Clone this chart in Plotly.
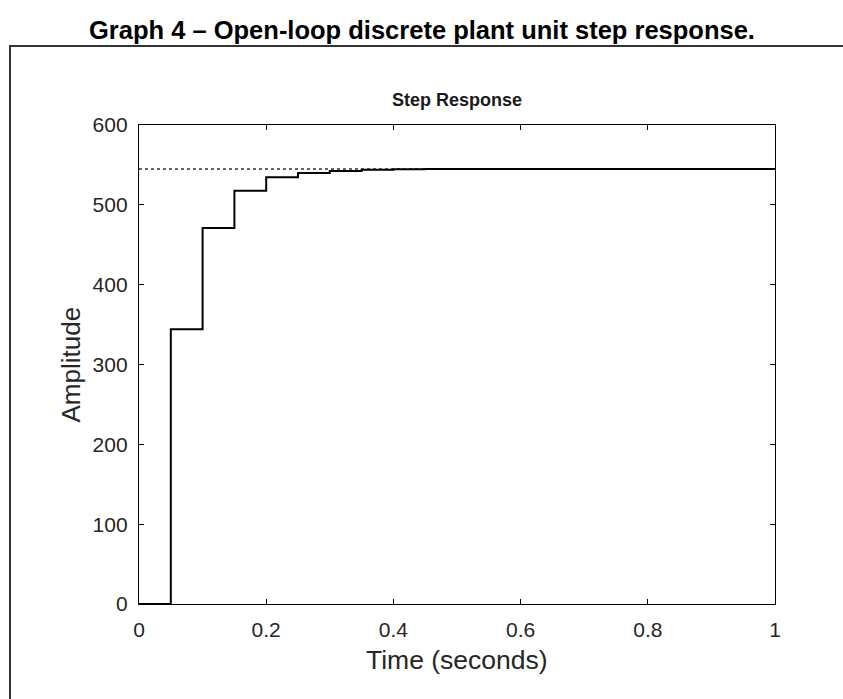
import plotly.graph_objects as go

# Data
time_s = [0.0, 0.05, 0.10, 0.15, 0.20, 0.25, 0.30, 0.35, 0.40, 0.45, 0.50,
          0.55, 0.60, 0.65, 0.70, 0.75, 0.80, 0.85, 0.90, 0.95, 1.0]
amplitude = [0, 344, 471, 517.5, 534.5, 540, 542.5, 544, 544.5, 545, 545,
             545, 545, 545, 545, 545, 545, 545, 545, 545, 545]
steady_x = [0, 1]
steady_y = [545, 545]
x_ticks = [0, 0.2, 0.4, 0.6, 0.8, 1]
x_tick_text = ["0", "0.2", "0.4", "0.6", "0.8", "1"]
y_ticks = [0, 100, 200, 300, 400, 500, 600]

W, H = 843, 699
L, R, T, B = 139, 68, 125, 94.5
pw, ph = W - L - R, H - T - B

def px2paper_x(px):
    return (px - L) / pw

def px2paper_y(py):
    return (H - B - py) / ph

FONT = "Liberation Sans, Arial, Helvetica, sans-serif"

fig = go.Figure()
fig.add_trace(go.Scatter(x=steady_x, y=steady_y, mode="lines",
                         line=dict(color="#333333", width=1.5, dash="dot"),
                         hoverinfo="skip", showlegend=False))
fig.add_trace(go.Scatter(x=time_s, y=amplitude, mode="lines", line_shape="hv",
                         line=dict(color="black", width=2), showlegend=False))

axis_common = dict(showline=True, linecolor="black", linewidth=1.3, mirror="ticks",
                   ticks="inside", ticklen=5, tickwidth=1.2, tickcolor="black",
                   showgrid=False, zeroline=False,
                   tickfont=dict(family=FONT, size=21, color="#262626"))

fig.update_xaxes(range=[0, 1], tickvals=x_ticks, ticktext=x_tick_text,
                 ticklabelstandoff=7, **axis_common)
fig.update_yaxes(range=[0, 600], tickvals=y_ticks, ticklabelstandoff=6,
                 **axis_common)

# outer frame
fig.add_shape(type="rect", xref="paper", yref="paper",
              x0=px2paper_x(10), x1=px2paper_x(860),
              y0=px2paper_y(720), y1=px2paper_y(46),
              line=dict(color="#333333", width=2), fillcolor="rgba(0,0,0,0)",
              layer="below")

annotations = [
    dict(text="<b>Graph 4 \u2013 Open-loop discrete plant unit step response.</b>",
         x=px2paper_x(421.5), y=px2paper_y(30), xref="paper", yref="paper",
         xanchor="center", yanchor="middle", showarrow=False,
         font=dict(family=FONT, size=25.5, color="black")),
    dict(text="<b>Step Response</b>", x=0.5, y=px2paper_y(100),
         xref="paper", yref="paper", xanchor="center", yanchor="middle",
         showarrow=False, font=dict(family=FONT, size=18, color="#1a1a1a")),
    dict(text="Time (seconds)", x=0.5, y=px2paper_y(661),
         xref="paper", yref="paper", xanchor="center", yanchor="middle",
         showarrow=False, font=dict(family=FONT, size=26.5, color="#262626")),
    dict(text="Amplitude", x=px2paper_x(70), y=0.5, textangle=-90,
         xref="paper", yref="paper", xanchor="center", yanchor="middle",
         showarrow=False, font=dict(family=FONT, size=26, color="#262626")),
]

fig.update_layout(width=W, height=H, margin=dict(l=L, r=R, t=T, b=B),
                  paper_bgcolor="white", plot_bgcolor="white",
                  annotations=annotations, showlegend=False)

fig.write_html("out.html")
